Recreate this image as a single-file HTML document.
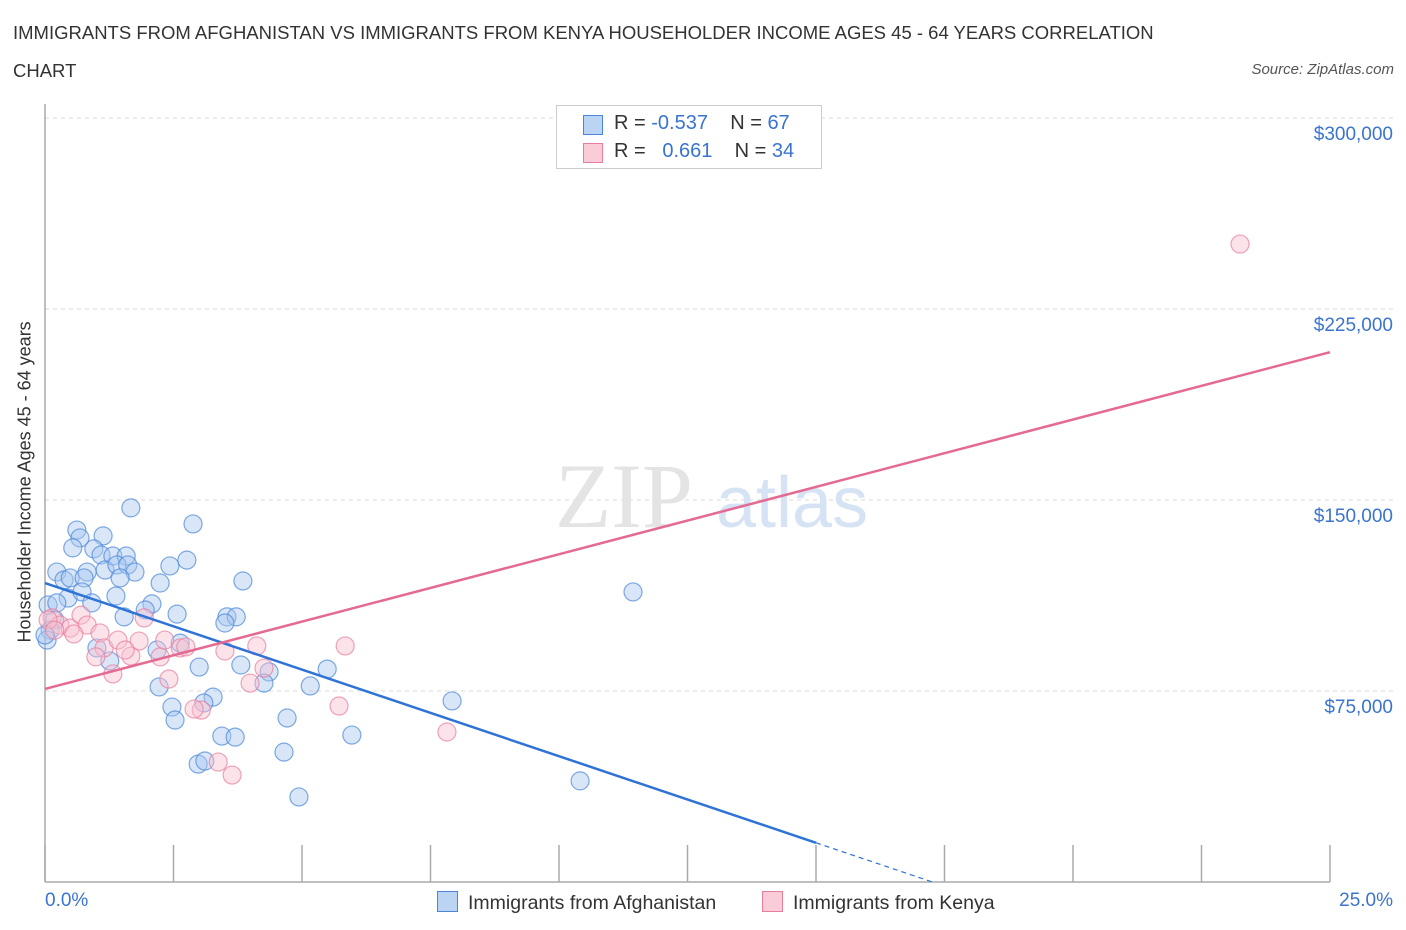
<!DOCTYPE html>
<html><head><meta charset="utf-8"><style>
body{margin:0;background:#fff;font-family:"Liberation Sans",sans-serif;}
#wrap{position:relative;width:1406px;height:930px;overflow:hidden}
.t{position:absolute;white-space:nowrap}
</style></head><body>
<div id="wrap">
<div class="t" style="left:13px;top:14px;font-size:18.5px;color:#333;line-height:38px">IMMIGRANTS FROM AFGHANISTAN VS IMMIGRANTS FROM KENYA HOUSEHOLDER INCOME AGES 45 - 64 YEARS CORRELATION<br>CHART</div>
<div class="t" style="right:12px;top:61px;font-size:15px;color:#555;font-style:italic">Source: ZipAtlas.com</div>
<svg id="svg" width="1406" height="930" style="position:absolute;left:0;top:0"></svg>
</div>
<script>
const xTicksPct=[0,2.5,5,7.5,10,12.5,15,17.5,20,22.5,25];
const yTicks=[75000,150000,225000,300000];
const yTickLabels=["$75,000","$150,000","$225,000","$300,000"];
const afgX=[0.62,0.68,0.54,1.13,0.95,1.09,1.32,1.58,0.23,0.37,0.49,0.82,1.17,1.40,1.61,1.75,1.46,0.76,0.45,0.72,1.38,0.91,2.08,1.95,1.54,1.67,2.24,2.43,2.76,2.88,2.57,3.85,3.54,3.72,3.50,0.19,0.10,0.04,2.63,2.18,3.00,1.01,1.26,3.81,5.49,4.36,4.26,5.16,2.22,3.27,3.09,2.47,2.53,4.71,7.92,3.44,3.70,5.97,4.65,2.98,3.11,4.94,10.41,11.44,0.06,0.23,0.0];
const afgY=[138.2,135.1,131.2,135.9,130.8,128.4,128.0,128.0,121.7,118.6,119.4,121.7,122.5,124.5,124.5,121.7,119.4,119.4,111.5,113.9,112.3,109.6,109.2,106.8,104.1,146.9,117.4,124.1,126.4,140.6,105.2,118.2,104.1,104.1,101.7,102.9,98.9,95.0,93.8,91.1,84.4,91.9,86.8,85.2,83.6,82.5,78.1,77.0,76.6,72.6,70.3,68.7,63.6,64.4,71.1,57.3,56.9,57.7,51.0,46.3,47.5,33.4,39.7,113.9,108.8,109.6,97.0];
const kenX=[23.25,0.14,0.29,0.49,0.70,0.82,1.07,0.56,1.15,1.42,1.83,0.99,1.67,2.24,2.33,2.63,2.74,1.93,1.56,1.32,2.41,3.04,2.90,3.50,4.12,4.26,3.99,5.84,5.72,7.82,3.37,3.64,0.06,0.19];
const kenY=[250.5,103.7,100.9,99.7,104.8,100.9,97.8,97.4,91.9,95.0,94.6,88.4,88.7,88.4,95.0,91.9,92.3,103.7,91.1,81.7,79.7,67.5,67.9,90.7,92.7,84.0,78.1,92.7,69.1,58.9,47.1,42.0,102.9,98.9];
const afgTrend=[117.4,-6.8];
const kenTrend=[75.8,5.29];

const X0=45,X1=1330,Y0=882,PXK=191/75;
const sx=p=>X0+(X1-X0)*p/25;
const sy=k=>Y0-k*PXK;
const svg=document.getElementById('svg');
const NS='http://www.w3.org/2000/svg';
function mk(tag,attrs,name){const e=document.createElementNS(NS,tag);for(const k in attrs)e.setAttribute(k,attrs[k]);


svg.appendChild(e);return e;}
yTicks.forEach((v,i)=>{const y=sy(v/1000);
mk('line',{x1:X0,x2:1393,y1:y,y2:y,stroke:'#d8d8d8','stroke-dasharray':'4,4'},'y-gridline');
const t=mk('text',{x:1393,y:y+22,'text-anchor':'end','font-size':19,fill:'#3a74d0','font-family':'Liberation Sans'},'y-tick-label');t.textContent=yTickLabels[i];});
const wm=mk('text',{x:555,y:527,'font-size':92,fill:'#e4e4e4','font-family':'Liberation Serif'},'watermark-zip');wm.textContent='ZIP';
const wm2=mk('text',{x:716,y:527,'font-size':72,fill:'#d6e3f5','font-family':'Liberation Sans'},'watermark-atlas');wm2.textContent='atlas';
mk('line',{x1:X0,x2:X0,y1:104,y2:Y0,stroke:'#aaa','stroke-width':1.5},'y-axis');
mk('line',{x1:X0,x2:X1,y1:Y0,y2:Y0,stroke:'#aaa','stroke-width':1.5},'x-axis');
xTicksPct.forEach(p=>mk('line',{x1:sx(p),x2:sx(p),y1:Y0,y2:Y0-37,stroke:'#aaa','stroke-width':1.5},'x-tick'));
function pts(xs,ys,fill,stroke,name){xs.forEach((x,i)=>mk('circle',{cx:sx(x),cy:sy(ys[i]),r:9,fill:fill,'fill-opacity':0.45,stroke:stroke,'stroke-opacity':0.7,'stroke-width':1.2},name));}
pts(afgX,afgY,'#a9c8f0','#4a86d8','afghanistan-point');
pts(kenX,kenY,'#f8c0d0','#e87d9c','kenya-point');
const ta=x=>afgTrend[0]+afgTrend[1]*x;
mk('line',{x1:sx(0),y1:sy(ta(0)),x2:sx(15),y2:sy(ta(15)),stroke:'#2f73d6','stroke-width':2.5},'afghanistan-trendline');
const xz=-afgTrend[0]/afgTrend[1];
mk('line',{x1:sx(15),y1:sy(ta(15)),x2:sx(xz),y2:sy(0),stroke:'#2f73d6','stroke-width':1.2,'stroke-dasharray':'5,4'},'afghanistan-trendline-extension');
const tk=x=>kenTrend[0]+kenTrend[1]*x;
mk('line',{x1:sx(0),y1:sy(tk(0)),x2:sx(25),y2:sy(tk(25)),stroke:'#e56a92','stroke-width':2.5},'kenya-trendline');
</script>
<div class="t" style="left:-125px;top:482px;width:300px;text-align:center;transform:rotate(-90deg);font-size:18px;color:#333">Householder Income Ages 45 - 64 years</div>
<div class="t" style="left:45px;top:890px;font-size:19px;color:#3a74d0">0.0%</div>
<div class="t" style="right:13px;top:890px;font-size:19px;color:#3a74d0">25.0%</div>
<div style="position:absolute;left:556px;top:105px;width:264px;height:62px;border:1px solid #ccc;background:#fff;font-size:20px;color:#333">
 <div style="position:absolute;left:26px;top:9px;width:18px;height:18px;background:#bcd4f4;border:1px solid #4a86d8"></div>
 <div class="t" style="left:57px;top:6px">R = <span style="color:#3a74d0">-0.537</span>&nbsp;&nbsp;&nbsp; N = <span style="color:#3a74d0">67</span></div>
 <div style="position:absolute;left:26px;top:37px;width:18px;height:18px;background:#f9ccd8;border:1px solid #e87d9c"></div>
 <div class="t" style="left:57px;top:34px">R = &nbsp;&nbsp;<span style="color:#3a74d0">0.661</span>&nbsp;&nbsp;&nbsp; N = <span style="color:#3a74d0">34</span></div>
</div>
<div style="position:absolute;left:437px;top:891px;font-size:19.5px;color:#333">
 <span style="display:inline-block;width:19px;height:19px;background:#bcd4f4;border:1px solid #4a86d8;vertical-align:-3px;margin-right:10px"></span>Immigrants from Afghanistan</div>
<div style="position:absolute;left:762px;top:891px;font-size:19.5px;color:#333">
 <span style="display:inline-block;width:19px;height:19px;background:#f9ccd8;border:1px solid #e87d9c;vertical-align:-3px;margin-right:10px"></span>Immigrants from Kenya</div>
</body></html>
